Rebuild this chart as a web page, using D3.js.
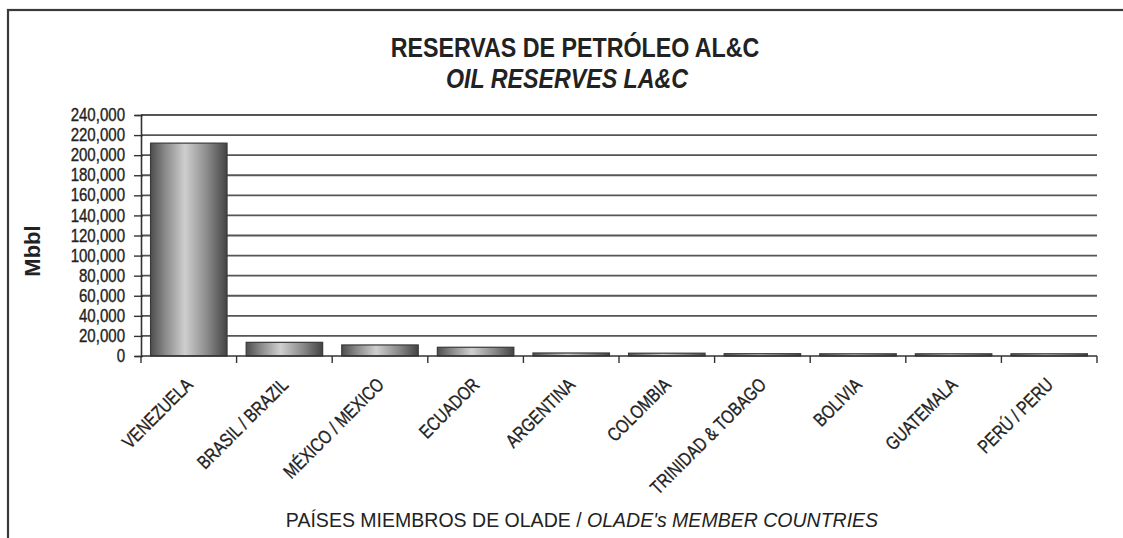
<!DOCTYPE html>
<html>
<head>
<meta charset="utf-8">
<script src="https://d3js.org/d3.v7.min.js"></script>
<style>
  body { margin: 0; background: #fff; }
  svg { display: block; }
  text { font-family: "Liberation Sans", Arial, sans-serif; fill: #222; }
</style>
</head>
<body>
<svg id="chart"></svg>
<script>
"use strict";

// values (Mbbl)
var countries = ["VENEZUELA", "BRASIL / BRAZIL", "MÉXICO / MEXICO", "ECUADOR", "ARGENTINA",
                 "COLOMBIA", "TRINIDAD & TOBAGO", "BOLIVIA", "GUATEMALA", "PERÚ / PERU"];
var reserves = [212000, 13600, 11000, 8700, 3000, 2800, 2300, 2200, 2200, 2200];
var yTicks = [0, 20000, 40000, 60000, 80000, 100000, 120000, 140000, 160000, 180000, 200000, 220000, 240000];

var W = 1123, H = 538;
var margin = { top: 115, right: 26, bottom: 182, left: 141 };
var plotW = W - margin.left - margin.right,
    plotH = H - margin.top - margin.bottom;

// no narrow font installed, so text is squeezed horizontally
function narrow(x, y, sx, extra) {
  return "translate(" + x + "," + y + ")" + (extra || "") + " scale(" + sx + ",1)";
}

var svg = d3.select("#chart").attr("width", W).attr("height", H);

var defs = svg.append("defs");
var grad = defs.append("linearGradient").attr("id", "barGrad")
    .attr("x1", 0).attr("x2", 1).attr("y1", 0).attr("y2", 0);
grad.append("stop").attr("offset", "0%").attr("stop-color", "#4e4e4e");
grad.append("stop").attr("offset", "18%").attr("stop-color", "#868686");
grad.append("stop").attr("offset", "45%").attr("stop-color", "#cfcfcf");
grad.append("stop").attr("offset", "75%").attr("stop-color", "#888");
grad.append("stop").attr("offset", "100%").attr("stop-color", "#434343");

// outer frame
svg.append("rect")
    .attr("x", 8).attr("y", 10)
    .attr("width", W + 10).attr("height", H + 10)
    .attr("fill", "none").attr("stroke", "#3a3a3a").attr("stroke-width", 2.2);

// title
svg.append("text").attr("transform", narrow(575, 57, 0.83)).attr("text-anchor", "middle")
    .style("font-size", "28px").style("font-weight", "bold")
    .text("RESERVAS DE PETRÓLEO AL&C");
svg.append("text").attr("transform", narrow(567, 88, 0.83)).attr("text-anchor", "middle")
    .style("font-size", "28px").style("font-weight", "bold").style("font-style", "italic")
    .text("OIL RESERVES LA&C");

var g = svg.append("g").attr("transform", "translate(" + margin.left + "," + margin.top + ")");

var x = d3.scaleBand().domain(countries).range([0, plotW]).paddingInner(0.2).paddingOuter(0.1);
var y = d3.scaleLinear().domain([0, 240000]).range([plotH, 0]);

// gridlines
g.selectAll("line.grid").data(yTicks.slice(1)).enter().append("line")
    .attr("class", "grid")
    .attr("x1", 0).attr("x2", plotW)
    .attr("y1", function (d) { return y(d); })
    .attr("y2", function (d) { return y(d); })
    .attr("stroke", "#555").attr("stroke-width", 1.8);

// y axis
var yAxis = g.append("g")
    .call(d3.axisLeft(y).tickValues(yTicks).tickSize(6).tickPadding(10)
      .tickFormat(d3.format(",")));
yAxis.select(".domain").attr("stroke", "#333").attr("stroke-width", 1.6);
yAxis.selectAll(".tick line").attr("stroke", "#333").attr("stroke-width", 1.4).attr("x2", -7).attr("x1", 2);
yAxis.selectAll(".tick text")
    .attr("x", -16 / 0.86)
    .attr("transform", "scale(0.86,1)")
    .style("font-size", "17.5px").attr("fill", "#222")
    .attr("stroke", "#222").attr("stroke-width", 0.35)
    .style("font-family", "'Liberation Sans', Arial, sans-serif");

// bars
g.selectAll("rect.bar").data(reserves).enter().append("rect")
    .attr("class", "bar")
    .attr("x", function (d, i) { return x(countries[i]); })
    .attr("width", x.bandwidth())
    .attr("y", function (d) { return y(d); })
    .attr("height", function (d) { return plotH - y(d); })
    .attr("fill", "url(#barGrad)")
    .attr("stroke", "#3a3a3a").attr("stroke-width", 1.2);

// x axis with ticks between categories
var step = x.step();
var bounds = countries.map(function (c) { return x(c) - step * x.paddingOuter(); });
bounds.push(plotW);
var xAxis = g.append("g").attr("transform", "translate(0," + plotH + ")");
xAxis.append("line").attr("x1", 0).attr("x2", plotW).attr("stroke", "#333").attr("stroke-width", 1.6);
xAxis.selectAll("line.tk").data(bounds).enter().append("line")
    .attr("class", "tk")
    .attr("x1", function (d) { return d; }).attr("x2", function (d) { return d; })
    .attr("y1", 0).attr("y2", 7)
    .attr("stroke", "#333").attr("stroke-width", 1.4);

xAxis.selectAll("text.lbl").data(countries).enter().append("text")
    .attr("class", "lbl")
    .attr("text-anchor", "end")
    .attr("transform", function (d) {
      return narrow(x(d) + x.bandwidth() / 2 + 5, 30, 0.8, " rotate(-45)");
    })
    .style("font-size", "19px")
    .attr("stroke", "#222").attr("stroke-width", 0.35)
    .text(function (d) { return d; });

// axis titles
svg.append("text")
    .attr("transform", "translate(40,251) rotate(-90)")
    .attr("text-anchor", "middle")
    .style("font-size", "22px").style("font-weight", "bold")
    .text("Mbbl");

var xt = svg.append("text").attr("transform", narrow(582, 527, 0.93)).attr("text-anchor", "middle")
    .style("font-size", "21px");
xt.append("tspan").text("PAÍSES MIEMBROS DE OLADE / ");
xt.append("tspan").style("font-style", "italic").text("OLADE's MEMBER COUNTRIES");
</script>
</body>
</html>
